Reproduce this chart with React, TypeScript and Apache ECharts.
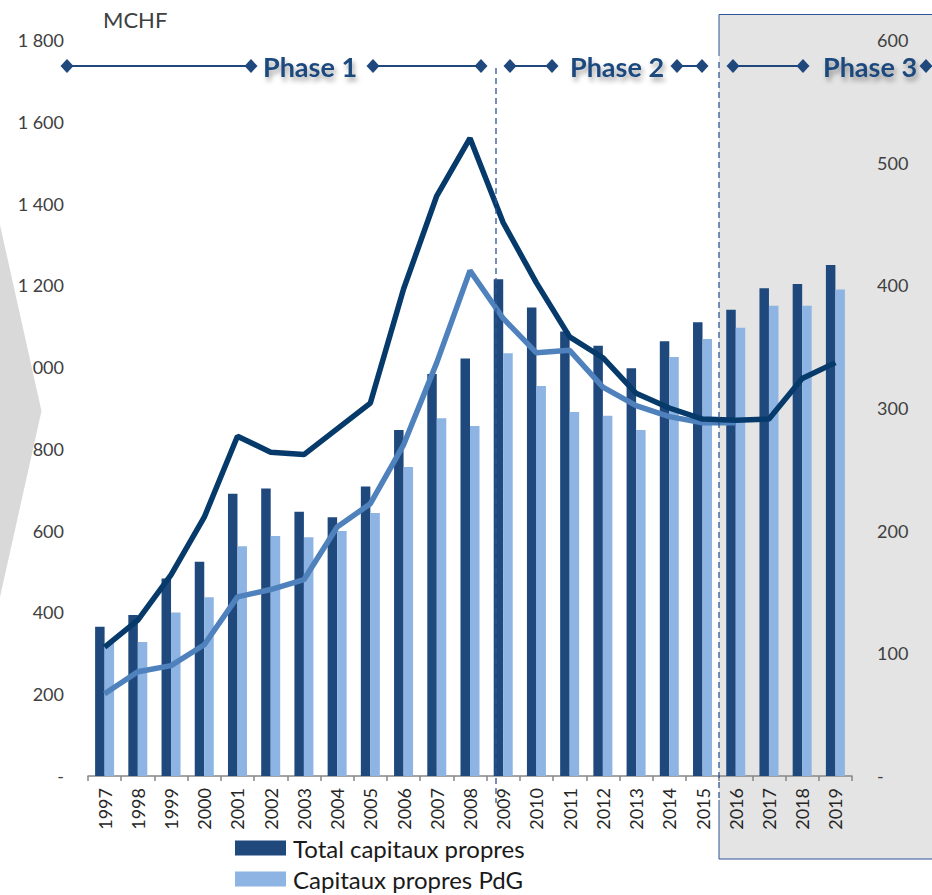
import React, { useEffect, useRef } from "react";
import * as echarts from "echarts";

const years = [
  "1997", "1998", "1999", "2000", "2001", "2002", "2003", "2004", "2005", "2006", "2007", "2008",
  "2009", "2010", "2011", "2012", "2013", "2014", "2015", "2016", "2017", "2018", "2019",
];
const totalCapitaux = [365, 394, 483, 524, 690, 703, 646, 633, 708, 846, 983, 1021, 1215, 1146, 1087, 1052, 997, 1063, 1110, 1140, 1193, 1203, 1250];
const capitauxPdG = [325, 328, 400, 437, 562, 587, 584, 599, 643, 756, 875, 856, 1034, 954, 890, 881, 846, 1025, 1069, 1096, 1150, 1150, 1190];
const lineDark = [105, 127, 164, 211, 277, 264, 262, 283, 304, 397, 473, 520, 451, 402, 358, 341, 312, 300, 291, 290, 291, 324, 337];
const lineLight = [67, 85, 90, 107, 146, 152, 160, 203, 222, 270, 337, 412, 373, 345, 347, 317, 302, 293, 288, 288, null, null, null];
const leftTicks = { min: 0, max: 1800, interval: 200 };
const rightTicks = { min: 0, max: 600, interval: 100 };
const phaseLabels = ["Phase 1", "Phase 2", "Phase 3"];
const legendNames = ["Total capitaux propres", "Capitaux propres PdG"];

const NAVY = "#1F497D";
const FONT = "Lato, 'Open Sans', sans-serif";

function fmt(v: number): string {
  if (v === 0) return "-";
  return String(v).replace(/\B(?=(\d{3})+(?!\d))/g, " ");
}

function diamond(x: number, y: number) {
  return {
    type: "polygon",
    z: 20,
    shape: { points: [[x, y - 7], [x + 6.5, y], [x, y + 7], [x - 6.5, y]] },
    style: { fill: NAVY },
  };
}
function hline(x1: number, x2: number, y: number) {
  return {
    type: "line",
    z: 20,
    shape: { x1, y1: y, x2, y2: y },
    style: { stroke: NAVY, lineWidth: 2 },
  };
}
function phaseText(text: string, x: number, y: number) {
  return {
    type: "text",
    z: 21,
    x,
    y,
    style: {
      text,
      fill: "#1F497D",
      fontSize: 27,
      fontWeight: "bold",
      fontFamily: FONT,
      align: "center",
      verticalAlign: "middle",
      textShadowColor: "rgba(0,0,0,0.35)",
      textShadowBlur: 5,
      textShadowOffsetX: 2,
      textShadowOffsetY: 4,
    },
  };
}

function legendFor(name: string, top: number) {
  return {
    data: [name],
    orient: "vertical",
    left: 235,
    top,
    padding: 0,
    itemWidth: 51,
    itemHeight: 15,
    icon: "rect",
    textStyle: { fontSize: 24, color: "#1a1a1a", fontFamily: FONT, padding: [0, 0, 0, 2] },
    selectedMode: false,
  };
}

export default function App() {
  const ref = useRef<HTMLDivElement>(null);
  useEffect(() => {
    if (!ref.current) return;
    const chart = echarts.init(ref.current, undefined, { renderer: "svg" });
    const py = 66;
    const graphic: any[] = [
      // shaded phase 3 area
      { type: "rect", z: -1, shape: { x: 719, y: 14.5, width: 240, height: 844.5 }, style: { fill: "#E4E4E4" } },
      { type: "line", z: 20, shape: { x1: 719, y1: 14.5, x2: 940, y2: 14.5 }, style: { stroke: "#2F5597", lineWidth: 1 } },
      { type: "line", z: 20, shape: { x1: 719, y1: 859, x2: 940, y2: 859 }, style: { stroke: "#2F5597", lineWidth: 1 } },
      { type: "line", z: 20, shape: { x1: 719, y1: 14.5, x2: 719, y2: 56 }, style: { stroke: "#2F5597", lineWidth: 1 } },
      { type: "line", z: 20, shape: { x1: 719, y1: 800, x2: 719, y2: 859 }, style: { stroke: "#2F5597", lineWidth: 1 } },
      // dashed separators
      { type: "line", z: 20, shape: { x1: 719, y1: 62, x2: 719, y2: 800 }, style: { stroke: "#2F5597", lineWidth: 1.3, lineDash: [6, 4] } },
      { type: "line", z: 20, shape: { x1: 496, y1: 68, x2: 496, y2: 803 }, style: { stroke: "#2F5597", lineWidth: 1.3, lineDash: [6, 4] } },
      // phase arrows
      hline(67, 251, py), diamond(67, py), diamond(251, py),
      phaseText(phaseLabels[0], 310, py),
      hline(373, 481, py), diamond(373, py), diamond(481, py),
      hline(510, 552, py), diamond(510, py), diamond(552, py),
      phaseText(phaseLabels[1], 617, py),
      hline(677, 702, py), diamond(677, py), diamond(702, py),
      hline(733, 803, py), diamond(733, py), diamond(803, py),
      phaseText(phaseLabels[2], 870, py),
      diamond(926, py),
      // unit label
      {
        type: "text", z: 21, x: 103, y: 19,
        style: { text: "MCHF", fill: "#404040", fontSize: 22, fontFamily: FONT, align: "left", verticalAlign: "middle" },
      },
      // grey chevron on the left
      {
        type: "polygon", z: 50,
        shape: { points: [[-2, 216], [41.5, 411], [-2, 606]] },
        style: { fill: "#D9D9D9" },
      },
    ];

    chart.setOption({
      animation: false,
      backgroundColor: "#ffffff",
      grid: { left: 88, right: 80, top: 40, bottom: 119, containLabel: false },
      legend: [legendFor(legendNames[0], 836), legendFor(legendNames[1], 867)],
      xAxis: {
        type: "category",
        data: years,
        boundaryGap: true,
        axisLine: { show: true, lineStyle: { color: "#868686", width: 1.5 } },
        axisTick: { show: true, length: 5, interval: 0, lineStyle: { color: "#868686", width: 1.5 } },
        axisLabel: { interval: 0, rotate: 90, margin: 12, fontSize: 18, color: "#262626", fontFamily: FONT },
        splitLine: { show: false },
      },
      yAxis: [
        {
          type: "value",
          ...leftTicks,
          axisLine: { show: false },
          axisTick: { show: false },
          splitLine: { show: false },
          axisLabel: { margin: 24, fontSize: 18, color: "#404040", fontFamily: FONT, formatter: (v: number) => fmt(v) },
        },
        {
          type: "value",
          ...rightTicks,
          position: "right",
          axisLine: { show: false },
          axisTick: { show: false },
          splitLine: { show: false },
          axisLabel: { margin: 25, fontSize: 18, color: "#404040", fontFamily: FONT, formatter: (v: number) => fmt(v) },
        },
      ],
      series: [
        {
          name: legendNames[0],
          type: "bar",
          data: totalCapitaux,
          barWidth: 9.5,
          barGap: "0%",
          itemStyle: { color: "#1F497D" },
          z: 2,
        },
        {
          name: legendNames[1],
          type: "bar",
          data: capitauxPdG,
          barWidth: 9.5,
          barGap: "0%",
          itemStyle: { color: "#8DB4E2" },
          z: 2,
        },
        {
          name: "Ligne PdG",
          type: "line",
          yAxisIndex: 1,
          data: lineLight,
          showSymbol: false,
          symbol: "none",
          lineStyle: { color: "#4F81BD", width: 5.5 },
          connectNulls: false,
          z: 3,
        },
        {
          name: "Ligne totale",
          type: "line",
          yAxisIndex: 1,
          data: lineDark,
          showSymbol: false,
          symbol: "none",
          lineStyle: { color: "#063A6B", width: 5.5 },
          z: 4,
        },
      ],
      graphic,
    });
    return () => chart.dispose();
  }, []);
  return (
    <div
      ref={ref}
      style={{ position: "fixed", left: 0, top: 0, width: 932, height: 895 }}
    />
  );
}
